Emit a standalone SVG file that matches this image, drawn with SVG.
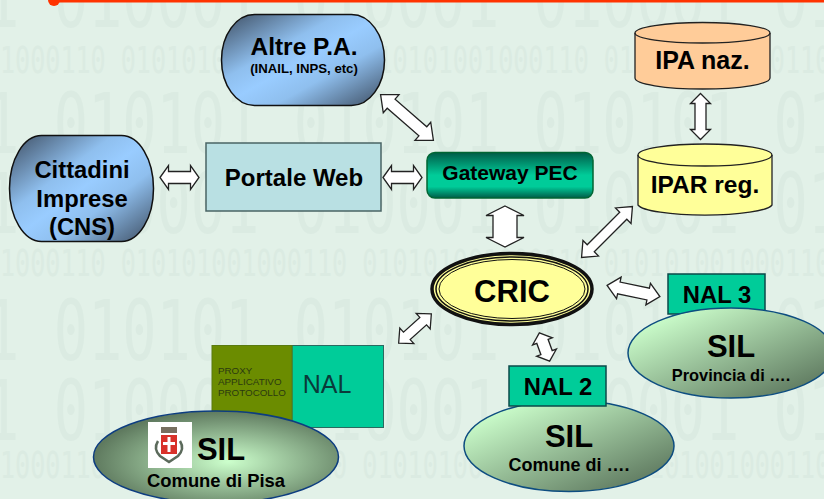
<svg xmlns="http://www.w3.org/2000/svg" width="824" height="499" viewBox="0 0 824 499">
<style>
text{font-family:"Liberation Sans",Arial,sans-serif;font-weight:bold;fill:#000;text-anchor:middle}
#background-digits text{font-family:"DejaVu Sans Mono","Liberation Mono",monospace;font-weight:normal;fill:#dbebe2;text-anchor:start}
.bgl{font-size:84px}
.bgs{font-size:37px}
.arrow{fill:#fff;stroke:#222;stroke-width:1.300;stroke-linejoin:miter}
.nal{fill:#00cc99;stroke:#0b4a4a;stroke-width:1.500}
.sil{stroke:#0d4d80;stroke-width:1.500}
.prox{text-anchor:start;font-weight:normal;fill:#2b3a10;font-size:9.800px}
</style>
<defs>
<linearGradient id="blue" x1="0" y1="0" x2="1" y2="1"><stop offset="0" stop-color="#3d4d61"/><stop offset=".36" stop-color="#8fbfee"/><stop offset=".5" stop-color="#99ccff"/><stop offset=".66" stop-color="#8fbfee"/><stop offset="1" stop-color="#3d4d61"/></linearGradient>
<linearGradient id="green" x1="0" y1="0" x2="0" y2="1"><stop offset="0" stop-color="#005c48"/><stop offset=".5" stop-color="#00cc99"/><stop offset=".75" stop-color="#00cc99"/><stop offset="1" stop-color="#005c48"/></linearGradient>
<linearGradient id="silg" x1="0" y1="0" x2="1" y2="1"><stop offset=".12" stop-color="#ccffcc"/><stop offset="1" stop-color="#4f6650"/></linearGradient>
<radialGradient id="pisag" cx=".55" cy=".55" r=".55"><stop offset="0" stop-color="#ccffcc"/><stop offset="1" stop-color="#5f7a5f"/></radialGradient>
</defs>
<rect width="824" height="499" fill="#e2f1e8"/>
<g id="background-digits" transform="scale(.678 1)">
<text class="bgl" x="-22" y="27">1 010001 010001 010001 01</text>
<text class="bgs" x="0" y="73">1000110 010101001000110 010101001000110 010101001000110</text>
<text class="bgl" x="-22" y="153">1 010101 010101 010101 01</text>
<text class="bgl" x="-22" y="233">1 010001 010001 010001 01</text>
<text class="bgs" x="0" y="276">1000110 010101001000110 010101001000110 010101001000110</text>
<text class="bgl" x="-22" y="360">1 010101 010101 010101 01</text>
<text class="bgl" x="-22" y="440">1 010001 010001 010001 01</text>
<text class="bgs" x="0" y="478">1000110 010101001000110 010101001000110 010101001000110</text>
</g>
<g id="title-bar"><rect x="54" y="0" width="770" height="2.500" fill="#ff3300"/><circle cx="54" cy="0" r="6" fill="#ff3300"/></g>
<g id="connectors">
<polygon class="arrow" transform="translate(179.500 177.500)" points="-19.500,0 -11,-12 -11,-6 11,-6 11,-12 19.500,0 11,12 11,6 -11,6 -11,12"/>
<polygon class="arrow" transform="translate(402.500 177.500)" points="-19.500,0 -11,-12 -11,-6 11,-6 11,-12 19.500,0 11,12 11,6 -11,6 -11,12"/>
<polygon class="arrow" transform="translate(407 117.500) rotate(41)" points="-35,0 -21,-12 -21,-6 21,-6 21,-12 35,0 21,12 21,6 -21,6 -21,12"/>
<polygon class="arrow" transform="translate(700.500 116.500) rotate(90)" points="-23,0 -13,-10 -13,-5.500 13,-5.500 13,-10 23,0 13,10 13,5.500 -13,5.500 -13,10"/>
<polygon class="arrow" transform="translate(505 226.500) rotate(90)" points="-20.500,0 -11,-19 -11,-12 11,-12 11,-19 20.500,0 11,19 11,12 -11,12 -11,19"/>
<polygon class="arrow" transform="translate(607 232) rotate(-45)" points="-36,0 -23,-11 -23,-5 23,-5 23,-11 36,0 23,11 23,5 -23,5 -23,11"/>
<polygon class="arrow" transform="translate(633.500 291) rotate(12)" points="-27,0 -15,-11 -15,-6 15,-6 15,-11 27,0 15,11 15,6 -15,6 -15,11"/>
<polygon class="arrow" transform="translate(544.500 347) rotate(70)" points="-15,0 -6,-10.500 -6,-6 6,-6 6,-10.500 15,0 6,10.500 6,6 -6,6 -6,10.500"/>
<polygon class="arrow" transform="translate(415 328.500) rotate(-42)" points="-22,0 -11,-10.500 -11,-5 11,-5 11,-10.500 22,0 11,10.500 11,5 -11,5 -11,10.500"/>
</g>
<g id="altre-pa"><rect x="221.500" y="14.500" width="163" height="91" rx="33" ry="45.500" fill="url(#blue)" stroke="#111" stroke-width="1.500"/><text x="304" y="55" font-size="24.500">Altre P.A.</text><text x="304" y="73" font-size="13.200">(INAIL, INPS, etc)</text></g>
<g id="cittadini"><rect x="9.500" y="135.500" width="144" height="106" rx="32" ry="53" fill="url(#blue)" stroke="#111" stroke-width="1.500"/><text x="82" y="178" font-size="23.800">Cittadini</text><text x="82" y="207" font-size="23.800">Imprese</text><text x="82" y="235" font-size="23.800">(CNS)</text></g>
<g id="portale-web"><rect x="206" y="143" width="175" height="68" fill="#b9e0e3" stroke="#4a6464" stroke-width="1.500"/><text x="294" y="186" font-size="24">Portale Web</text></g>
<g id="gateway-pec"><rect x="427" y="152.500" width="166" height="45.500" rx="8" fill="url(#green)" stroke="#063" stroke-width="1.500"/><text x="510" y="180" font-size="21">Gateway PEC</text></g>
<g id="ipa-naz"><path d="M635 33V78A67.500 11 0 0 0 770 78V33A67.500 10.500 0 0 0 635 33Z" fill="#ffcc99" stroke="#222" stroke-width="1.300"/><path d="M635 33A67.500 10 0 0 0 770 33" fill="none" stroke="#222" stroke-width="1.300"/><text x="702.500" y="69" font-size="25">IPA naz.</text></g>
<g id="ipar-reg"><path d="M638 155V205A67.500 11.500 0 0 0 772 205V155A67 11 0 0 0 638 155Z" fill="#ffff99" stroke="#222" stroke-width="1.300"/><path d="M638 155A67 11 0 0 0 772 155" fill="none" stroke="#222" stroke-width="1.300"/><text x="705" y="193" font-size="24.500">IPAR reg.</text></g>
<g id="cric"><ellipse cx="512" cy="289" rx="80" ry="35.500" fill="#ffff99" stroke="#111" stroke-width="3.500"/><ellipse cx="512" cy="289" rx="76" ry="32" fill="none" stroke="#111" stroke-width="1.500"/><ellipse cx="512" cy="289" rx="73" ry="29.500" fill="none" stroke="#111" stroke-width="1"/><text x="512" y="302" font-size="31">CRIC</text></g>
<g id="sil-provincia"><rect x="668" y="274" width="97" height="40" class="nal"/><text x="717" y="303" font-size="23.800">NAL 3</text><ellipse cx="731" cy="353" rx="103" ry="45" fill="url(#silg)" class="sil"/><text x="731" y="357" font-size="31">SIL</text><text x="731" y="381" font-size="16.400">Provincia di ….</text></g>
<g id="sil-comune"><ellipse cx="569" cy="446" rx="105" ry="45.500" fill="url(#silg)" class="sil"/><rect x="509" y="366" width="97" height="40" class="nal"/><text x="558" y="395" font-size="23.800">NAL 2</text><text x="569" y="447" font-size="31">SIL</text><text x="569" y="471" font-size="18">Comune di ….</text></g>
<g id="sil-pisa">
<rect x="292" y="345.500" width="91.500" height="82" fill="#00cc99" stroke="#2a6a60"/>
<rect x="212" y="345.500" width="80" height="82" fill="#6b8c00" stroke="#5a7a10"/>
<text class="prox" x="218" y="374">PROXY</text>
<text class="prox" x="218" y="385">APPLICATIVO</text>
<text class="prox" x="218" y="396">PROTOCOLLO</text>
<text x="327" y="393" font-size="25" style="font-weight:normal;fill:#0a3a3a">NAL</text>
<ellipse cx="216" cy="457" rx="122.500" ry="46" fill="url(#pisag)" stroke="#0d3d80" stroke-width="1.500"/>
<rect x="148" y="422" width="44" height="46" fill="#fff"/>
<rect x="161" y="435" width="16" height="19" fill="#d8312a"/>
<rect x="167.500" y="437" width="3" height="15" fill="#fff"/><rect x="163" y="442" width="12" height="3" fill="#fff"/>
<rect x="161" y="427" width="16" height="6" fill="#776f60"/>
<path d="M158 441q-5 8 2 15l9 6 9-6q7-7 2-15" fill="none" stroke="#5b6a5b" stroke-width="2.500"/>
<text x="221" y="460" font-size="31">SIL</text>
<text x="216" y="487" font-size="18.400">Comune di Pisa</text>
</g>
</svg>
